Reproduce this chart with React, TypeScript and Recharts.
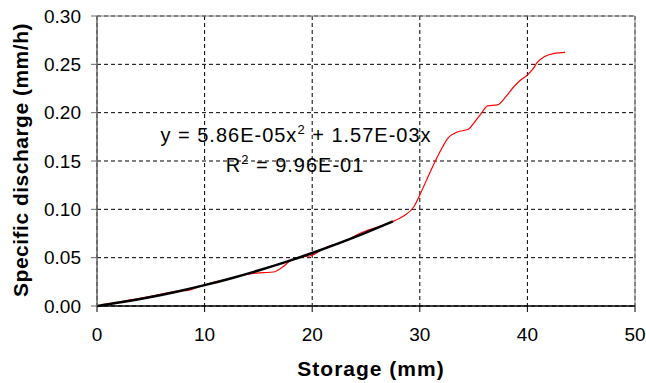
import { CartesianGrid, Line, LineChart, ReferenceLine, XAxis, YAxis } from "recharts"

const FONT = "'Liberation Sans', Arial, sans-serif"

const obsStorage = [
  0.4, 1.5, 3, 4.5, 6, 7.5, 8.6, 9.3, 10.3, 11.5, 12.5, 13.5, 14.5, 15.5, 16.4, 17.2, 18, 19, 20,
  20.8, 21.6, 22.6, 23.5, 24.3, 25.2, 26.3, 27.2, 27.8, 28.5, 29.45, 30.07, 31.0, 31.9, 32.6,
  33.5, 34.5, 35.0, 35.7, 36.3, 37.2, 38.0, 38.8, 39.4, 40.0, 40.5, 40.9, 41.6, 42.5, 43.5,
]
const obsDischarge = [
  0.0015, 0.003, 0.006, 0.009, 0.0122, 0.0153, 0.0165, 0.0193, 0.0228, 0.0262, 0.0288, 0.0318,
  0.0338, 0.0345, 0.0352, 0.04, 0.047, 0.0505, 0.0525, 0.0575, 0.062, 0.065, 0.0695, 0.0745,
  0.0785, 0.0825, 0.0858, 0.089, 0.093, 0.1027, 0.1166, 0.1395, 0.16, 0.1735, 0.18, 0.1828,
  0.189, 0.199, 0.207, 0.208, 0.2165, 0.2276, 0.234, 0.239, 0.245, 0.2517, 0.258, 0.2614, 0.2624,
]

// polynomial trendline, sampled
const fitStorage = [0, 2.5, 5, 7.5, 10, 12.5, 15, 17.5, 20, 22.5, 25, 27.5]
const fitDischarge = [
  0, 0.00429, 0.00932, 0.01507, 0.02156, 0.02878, 0.03674, 0.04542, 0.05484, 0.06499, 0.07588,
  0.08749,
]

const xTicks = [0, 10, 20, 30, 40, 50]
const yTicks = [0, 0.05, 0.1, 0.15, 0.2, 0.25, 0.3]

const observed = obsStorage.map((x, i) => ({ x, y: obsDischarge[i] }))
const fitted = fitStorage.map((x, i) => ({ x, y: fitDischarge[i] }))

export default function App() {
  const tickStyle = { fill: "#000", fontSize: 19, fontFamily: FONT }

  return (
    <div style={{ position: "absolute", left: 0, top: 0, width: 646, height: 383, background: "#fff" }}>
      <LineChart width={646} height={383} margin={{ top: 16, right: 11, bottom: 0, left: 0 }}>
        <CartesianGrid stroke="#000" strokeDasharray="4 3" strokeWidth={1} />
        <XAxis
          type="number"
          dataKey="x"
          domain={[0, 50]}
          ticks={xTicks}
          height={77}
          tick={tickStyle}
          tickSize={6}
          tickMargin={16}
          axisLine={{ stroke: "#000", strokeWidth: 1.5 }}
          tickLine={{ stroke: "#000" }}
        />
        <YAxis
          type="number"
          dataKey="y"
          domain={[0, 0.3]}
          ticks={yTicks}
          width={97}
          tick={tickStyle}
          tickSize={6}
          tickMargin={10}
          tickFormatter={(v: number) => v.toFixed(2)}
          axisLine={{ stroke: "#666", strokeWidth: 1.5 }}
          tickLine={{ stroke: "#666" }}
        />
        <ReferenceLine y={0.3} stroke="#888" strokeWidth={1.2} />
        <ReferenceLine x={50} stroke="#888" strokeWidth={1.2} />
        <Line
          data={observed}
          dataKey="y"
          type="monotone"
          stroke="#ff0000"
          strokeWidth={1.2}
          dot={false}
          isAnimationActive={false}
        />
        <Line
          data={fitted}
          dataKey="y"
          type="monotone"
          stroke="#000"
          strokeWidth={2.5}
          dot={false}
          isAnimationActive={false}
        />
      </LineChart>
      <svg
        width={646}
        height={383}
        style={{ position: "absolute", left: 0, top: 0, pointerEvents: "none" }}
        fontFamily={FONT}
      >
        <text x={296} y={142} fontSize={20} letterSpacing={1} textAnchor="middle" fill="#000">
          y = 5.86E-05x
          <tspan fontSize={13} dy={-8}>2</tspan>
          <tspan dy={8}> + 1.57E-03x</tspan>
        </text>
        <text x={295} y={172} fontSize={20} letterSpacing={1} textAnchor="middle" fill="#000">
          R<tspan fontSize={13} dy={-8}>2</tspan>
          <tspan dy={8}> = 9.96E-01</tspan>
        </text>
        <text x={371} y={376} fontSize={21} fontWeight="bold" letterSpacing={1} textAnchor="middle" fill="#000">
          Storage (mm)
        </text>
        <text
          x={28}
          y={160}
          fontSize={21}
          fontWeight="bold"
          letterSpacing={0.5}
          textAnchor="middle"
          fill="#000"
          transform="rotate(-90 28 160)"
        >
          Specific discharge (mm/h)
        </text>
      </svg>
    </div>
  )
}
